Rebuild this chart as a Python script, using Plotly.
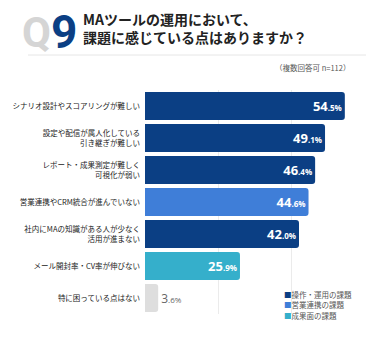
import plotly.graph_objects as go

categories = [
    "シナリオ設計やスコアリングが難しい",
    "設定や配信が属人化している<br>引き継ぎが難しい",
    "レポート・成果測定が難しく<br>可視化が弱い",
    "営業連携やCRM統合が進んでいない",
    "社内にMAの知識がある人が少なく<br>活用が進まない",
    "メール開封率・CV率が伸びない",
    "特に困っている点はない",
]
values = [54.5, 49.1, 46.4, 44.6, 42.0, 25.9, 3.6]
groups = ["操作・運用の課題", "操作・運用の課題", "操作・運用の課題", "営業連携の課題",
          "操作・運用の課題", "成果面の課題", "なし"]
group_order = ["操作・運用の課題", "営業連携の課題", "成果面の課題", "なし"]
legend_groups = ["操作・運用の課題", "営業連携の課題", "成果面の課題"]

colors = {"操作・運用の課題": "#0B3F84", "営業連携の課題": "#3F7ED8",
          "成果面の課題": "#35AFCB", "なし": "#DEDEDE"}

W, H = 370, 340
L, R, T, B = 145, 5, 90, 26
pw, ph = W - L - R, H - T - B


def px_x(x):
    return (x - L) / pw


def px_y(y):
    return (H - B - y) / ph


def label(v, big, small, bold=True):
    s = f"{v:.1f}"
    ip, dp = s.split(".")
    w = "bold" if bold else "normal"
    return (f"<span style='font-size:{big}px;font-weight:{w}'>{ip}</span>"
            f"<span style='font-size:{small}px;font-weight:{w}'>.{dp}%</span>")


fig = go.Figure()
for g in group_order:
    ys = [c for c, gg in zip(categories, groups) if gg == g]
    xs = [v for v, gg in zip(values, groups) if gg == g]
    if g == "なし":
        fig.add_trace(go.Bar(
            x=xs, y=ys, orientation="h", name=g, showlegend=False,
            marker=dict(color=colors[g], cornerradius=3, line=dict(width=0)),
            text=[label(v, 12, 8, bold=False) for v in xs], textposition="outside",
            textfont=dict(color="#666", family="Open Sans"),
            cliponaxis=False, hoverinfo="skip",
        ))
    else:
        fig.add_trace(go.Bar(
            x=xs, y=ys, orientation="h", name=g, showlegend=False,
            marker=dict(color=colors[g], cornerradius=3, line=dict(width=0)),
            text=[label(v, 13, 8) for v in xs], textposition="inside", insidetextanchor="end",
            textfont=dict(color="white", family="Open Sans"),
            hoverinfo="skip",
        ))

fig.update_layout(
    width=W, height=H,
    margin=dict(l=L, r=R, t=T, b=B, pad=0),
    paper_bgcolor="white", plot_bgcolor="white",
    barmode="overlay", bargap=0.12,
    font=dict(family="Noto Sans CJK JP", color="#333"),
    xaxis=dict(range=[0, 60], dtick=20, showticklabels=False, showgrid=True,
               gridcolor="#EBEBEB", gridwidth=1, zeroline=False, showline=False, fixedrange=True),
    yaxis=dict(categoryorder="array", categoryarray=categories, autorange="reversed",
               tickfont=dict(size=7.5, color="#222", family="Noto Sans CJK JP"),
               showgrid=False, zeroline=False, showline=False, ticks="", ticklabelstandoff=4),
    showlegend=False,
)

# Legend built from the group names/colours
for i, g in enumerate(legend_groups):
    fig.add_annotation(xref="paper", yref="paper", x=px_x(282), y=px_y(294 + i * 10.5),
                       xanchor="left", yanchor="middle", showarrow=False,
                       text=f"<span style='color:{colors[g]}'>■</span>{g}",
                       font=dict(size=7.5, color="#555", family="Noto Sans CJK JP"))

# Title block
fig.add_annotation(xref="paper", yref="paper", x=px_x(20), y=px_y(32), xanchor="left", yanchor="middle",
                   text="<b>Q</b>", showarrow=False,
                   font=dict(size=42, color="#D5D5D5", family="Roboto"))
fig.add_annotation(xref="paper", yref="paper", x=px_x(49), y=px_y(32), xanchor="left", yanchor="middle",
                   text="<b>9</b>", showarrow=False,
                   font=dict(size=46, color="#0B3F84", family="Roboto"))
fig.add_annotation(xref="paper", yref="paper", x=px_x(81), y=px_y(28), xanchor="left", yanchor="middle",
                   text="<b>MAツールの運用において、<br>課題に感じている点はありますか？</b>",
                   showarrow=False, align="left",
                   font=dict(size=14, color="#222", family="Noto Sans CJK JP"))
fig.add_shape(type="line", xref="paper", yref="paper", x0=px_x(28), x1=px_x(366),
              y0=px_y(55), y1=px_y(55), line=dict(color="#E6E6E6", width=1))
fig.add_annotation(xref="paper", yref="paper", x=px_x(352), y=px_y(68), xanchor="right", yanchor="middle",
                   text="（複数回答可 n=112）", showarrow=False,
                   font=dict(size=7.5, color="#555", family="Noto Sans CJK JP"))

fig.write_html("out.html")
